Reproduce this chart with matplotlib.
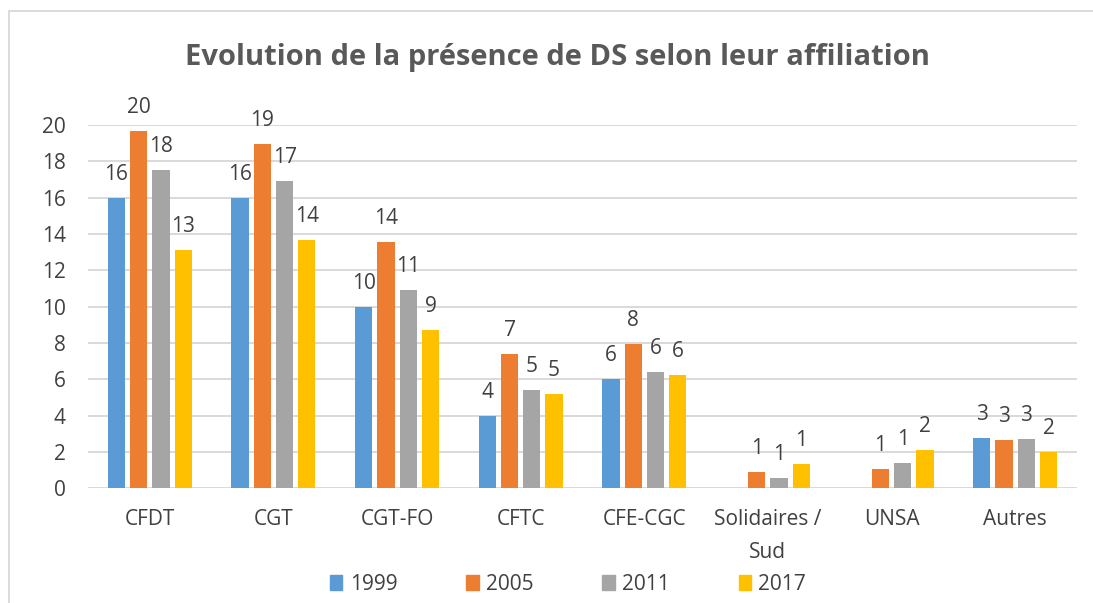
import numpy as np
import matplotlib
matplotlib.use("Agg")
import matplotlib.pyplot as plt
from matplotlib.patches import Rectangle
from matplotlib.lines import Line2D

plt.rcParams['font.family'] = ['Open Sans', 'DejaVu Sans']

categories = ["CFDT", "CGT", "CGT-FO", "CFTC", "CFE-CGC", "Solidaires /\nSud", "UNSA", "Autres"]
years = ["1999", "2005", "2011", "2017"]
v1999 = [16.0, 16.0, 10.0, 4.0, 6.0, np.nan, np.nan, 2.77]
v2005 = [19.67, 18.94, 13.54, 7.38, 7.96, 0.92, 1.06, 2.68]
v2011 = [17.52, 16.92, 10.92, 5.43, 6.42, 0.57, 1.38, 2.72]
v2017 = [13.12, 13.69, 8.73, 5.17, 6.26, 1.34, 2.11, 2.00]
series = [v1999, v2005, v2011, v2017]
colors = ["#5B9BD5", "#ED7D31", "#A5A5A5", "#FFC000"]
yticks = [0, 2, 4, 6, 8, 10, 12, 14, 16, 18, 20]

W, H = 1093, 603
fig = plt.figure(figsize=(W / 100, H / 100), dpi=100)
fig.patch.set_facecolor("white")

# chart frame (top and left visible)
fig.add_artist(Line2D([9 / W, 9 / W], [0, 1 - 11 / H], color="#D9D9D9", lw=1.3))
fig.add_artist(Line2D([9 / W, 1], [1 - 11 / H, 1 - 11 / H], color="#D9D9D9", lw=1.3))

ax = fig.add_axes([88 / W, 1 - 488.3 / H, (1077 - 88) / W, (488.3 - 125) / H])
ax.set_xlim(-0.5, len(categories) - 0.5)
ax.set_ylim(0, 20)
for s in ax.spines.values():
    s.set_visible(False)
ax.set_yticks(yticks)
ax.set_yticklabels([str(t) for t in yticks])
ax.tick_params(axis="y", length=0, pad=16, labelsize=15, labelcolor="#404040")
ax.tick_params(axis="x", length=0, pad=15, labelsize=15, labelcolor="#404040")
ax.yaxis.grid(True, color="#D9D9D9", lw=1.4)
ax.set_axisbelow(True)

x = np.arange(len(categories))
bw = 0.14
step = 0.18
for i, (vals, c, yr) in enumerate(zip(series, colors, years)):
    pos = x + (i - 1.5) * step
    arr = np.array(vals, dtype=float)
    mask = ~np.isnan(arr)
    ax.bar(pos[mask], arr[mask], width=bw, color=c, label=yr, zorder=3)
    for px, v in zip(pos[mask], arr[mask]):
        ax.annotate(f"{v:.0f}", (px, v), xytext=(0, 13), textcoords="offset points",
                    ha="center", va="baseline", fontsize=15, color="#404040")

ax.set_xticks(x)
ax.set_xticklabels(categories, linespacing=1.75, va="top")

fig.text(557 / W, 1 - 65 / H, "Evolution de la présence de DS selon leur affiliation",
         ha="center", va="baseline", fontsize=21, fontweight="bold", color="#595959")

handles = [Rectangle((0, 0), 1, 1, color=c) for c in colors]
leg = fig.legend(handles, years, loc="center", bbox_to_anchor=(568 / W, 1 - 584 / H),
                 ncol=4, frameon=False, fontsize=15, handlelength=0.6, handleheight=0.7,
                 handletextpad=0.35, columnspacing=3.3, labelcolor="#404040")

fig.savefig("out.png", dpi=100, facecolor="white")
